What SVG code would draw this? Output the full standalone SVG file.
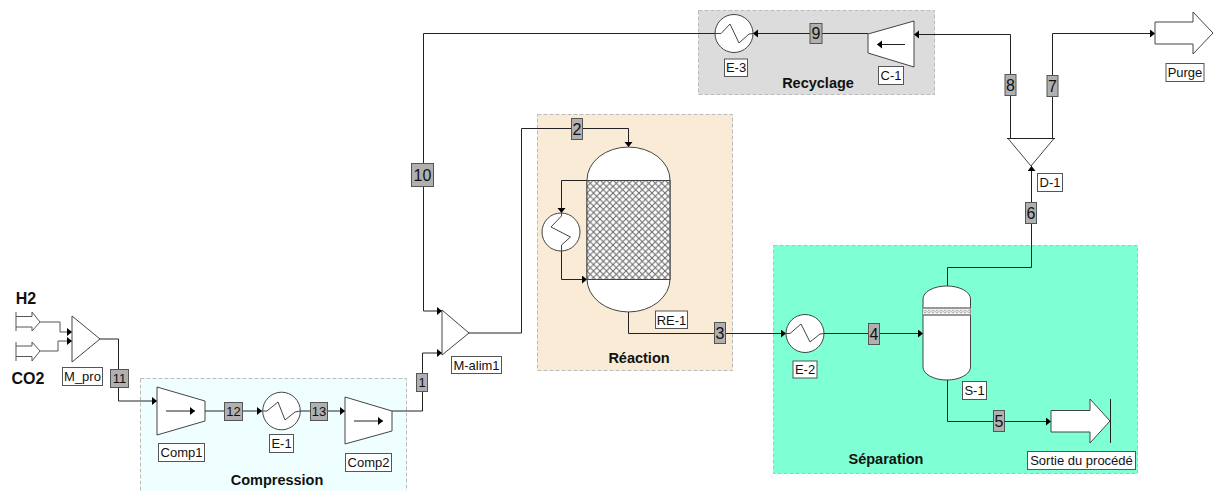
<svg xmlns="http://www.w3.org/2000/svg" width="1215" height="491" viewBox="0 0 1215 491">
<style>
text{font-family:"Liberation Sans",Arial,sans-serif;fill:#111}
.t{font-size:14.500px;font-weight:bold;text-anchor:middle}
.big{font-size:16px;font-weight:bold;text-anchor:middle}
.l{font-size:13px;text-anchor:middle}
.lb{fill:#fff;stroke:#555;stroke-width:1}
.sb{fill:#b0b0b0;stroke:#555;stroke-width:1}
.s{font-size:13px;text-anchor:middle}
.m{font-size:16px;text-anchor:middle}
.e{fill:#fff;stroke:#444;stroke-width:1}
.z{fill:none;stroke:#444;stroke-width:1}
.c{fill:none;stroke:#222;stroke-width:1}
.g{fill:none;stroke:#555;stroke-width:1}
.area{stroke:#bbb;stroke-width:1;stroke-dasharray:4 2}
</style>
<defs>
<marker id="ah" markerUnits="userSpaceOnUse" markerWidth="6" markerHeight="10" refX="5" refY="4" orient="auto"><path d="M0 0L5 4L0 8Z" fill="#000"/></marker>
<pattern id="hatch" width="6.500" height="6.500" x="587" y="180" patternUnits="userSpaceOnUse"><rect width="6.500" height="6.500" fill="#fff"/><path d="M0 0L6.500 6.500M6.500 0L0 6.500" stroke="#666" stroke-width="1"/></pattern>
<pattern id="dots" width="4" height="7" x="923" y="308" patternUnits="userSpaceOnUse"><rect width="4" height="7" fill="#f4f4f4"/><circle cx="2" cy="3.500" r="1.300" fill="none" stroke="#888" stroke-width=".6"/></pattern>
</defs>

<g id="areas">
<rect class="area" x="140.500" y="378.500" width="266" height="120" fill="#efffff"/>
<rect class="area" x="537.500" y="114.500" width="195" height="256" fill="#faebd7"/>
<rect class="area" x="698.500" y="10.500" width="236" height="84" fill="#dcdcdc"/>
<rect class="area" x="773.500" y="245.500" width="364" height="228" fill="#7fffd4"/>
<text class="t" x="277" y="485">Compression</text>
<text class="t" x="639" y="363">Réaction</text>
<text class="t" x="818" y="88">Recyclage</text>
<text class="t" x="886" y="464">Séparation</text>
<text class="big" x="26" y="304">H2</text>
<text class="big" x="28" y="384">CO2</text>
</g>

<g id="connectors">
<path class="g" d="M40 322H60V332H72" marker-end="url(#ah)"/>
<path class="g" d="M40 351H58V341H72" marker-end="url(#ah)"/>
<path class="c" d="M100 339H118.500V401H157" marker-end="url(#ah)"/>
<path class="c" d="M205 411H262" marker-end="url(#ah)"/>
<path class="c" d="M300 411H345" marker-end="url(#ah)"/>
<path class="c" d="M392 411H422.500V353H442" marker-end="url(#ah)"/>
<path class="c" d="M469 333H521.500V128.500H628.500V147" marker-end="url(#ah)"/>
<path class="c" d="M587 180.500H561.500V213" marker-end="url(#ah)"/>
<path class="c" d="M561.500 251V279.500H587" marker-end="url(#ah)"/>
<path class="c" d="M628.500 312V333.500H786" marker-end="url(#ah)"/>
<path class="c" d="M824 333.500H923" marker-end="url(#ah)"/>
<path class="c" d="M947.500 286V267.500H1031.500V166" marker-end="url(#ah)"/>
<path class="c" d="M947.500 380V421.500H1051" marker-end="url(#ah)"/>
<path class="c" d="M1052.500 138V33.500H1155" marker-end="url(#ah)"/>
<path class="c" d="M1010.500 138V34.500H914" marker-end="url(#ah)"/>
<path class="c" d="M868 33.500H753" marker-end="url(#ah)"/>
<path class="c" d="M715 33.500H423.500V311H442" marker-end="url(#ah)"/>
</g>

<g id="stream-labels">
<rect class="sb" x="110.500" y="369.500" width="18" height="18"/><text class="s" x="119.500" y="383">11</text>
<rect class="sb" x="224.500" y="402.500" width="18" height="18"/><text class="s" x="233.500" y="416">12</text>
<rect class="sb" x="310.500" y="402.500" width="17" height="18"/><text class="s" x="319" y="416">13</text>
<rect class="sb" x="416.500" y="373.500" width="11" height="18"/><text class="s" x="422" y="387">1</text>
<rect class="sb" x="411.500" y="163.500" width="22" height="23"/><text class="m" x="422.500" y="181">10</text>
<rect class="sb" x="571.500" y="118.500" width="11" height="21"/><text class="m" x="577" y="135">2</text>
<rect class="sb" x="714.500" y="322.500" width="11" height="21"/><text class="m" x="720" y="339">3</text>
<rect class="sb" x="868.500" y="323.500" width="11" height="21"/><text class="m" x="874" y="340">4</text>
<rect class="sb" x="993.500" y="410.500" width="11" height="21"/><text class="m" x="999" y="427">5</text>
<rect class="sb" x="1025.500" y="202.500" width="11" height="21"/><text class="m" x="1031" y="219">6</text>
<rect class="sb" x="1047" y="75.500" width="11" height="21"/><text class="m" x="1052.500" y="92">7</text>
<rect class="sb" x="1005" y="74.500" width="11" height="21"/><text class="m" x="1010.500" y="91">8</text>
<rect class="sb" x="810" y="23.500" width="12" height="20"/><text class="m" x="816" y="39">9</text>
</g>

<g id="H2"><path class="g" d="M16 312V331M16 316.500H32V312L40 322L32 331V327H16"/></g>
<g id="CO2"><path class="g" d="M16 342V361M16 346H32V342L40 351L32 361V356.500H16"/></g>
<g id="M_pro"><path class="e" d="M72 316L100 339L72 362Z"/><rect class="lb" x="62.500" y="367.500" width="40" height="18"/><text class="l" x="82.500" y="381">M_pro</text></g>

<g id="Comp1"><path class="e" d="M157 387L205 401V421L157 435Z"/><path class="c" d="M166 411H195" marker-end="url(#ah)"/><rect class="lb" x="158.500" y="443.500" width="46" height="18"/><text class="l" x="181.500" y="457">Comp1</text></g>
<g id="E-1"><circle class="e" cx="281.500" cy="411" r="18.800"/><path class="z" d="M263 411H267L278 402L285 420L295 412L300 411"/><rect class="lb" x="269.500" y="434.500" width="24" height="18"/><text class="l" x="281.500" y="448">E-1</text></g>
<g id="Comp2"><path class="e" d="M345 397L392 411V431L345 444Z"/><path class="c" d="M354 421H383" marker-end="url(#ah)"/><rect class="lb" x="345.500" y="453.500" width="46" height="18"/><text class="l" x="368.500" y="467">Comp2</text></g>

<g id="M-alim1"><path class="e" d="M442 310L469 333L442 355Z"/><rect class="lb" x="451.500" y="356.500" width="50" height="17"/><text class="l" x="476.500" y="370">M-alim1</text></g>

<g id="RE-1"><path class="e" d="M587 180A41.500 33 0 0 1 670 180V279A41.500 33 0 0 1 587 279Z"/><rect x="587" y="180.500" width="83" height="99" fill="url(#hatch)" stroke="#444"/><rect class="lb" x="655.500" y="311" width="32" height="17.500"/><text class="l" x="671.500" y="324.500">RE-1</text></g>
<g id="RE-1-exchanger"><circle class="e" cx="561" cy="232" r="19"/><path class="z" d="M561.500 213V216L551 227L570.500 237L561.500 245V251"/></g>

<g id="E-2"><circle class="e" cx="805" cy="333.500" r="19"/><path class="z" d="M786 333.500H790L801 324L810 342L820 334L824 333.500"/><rect class="lb" x="793" y="361" width="24" height="17"/><text class="l" x="805" y="374">E-2</text></g>
<g id="S-1"><path class="e" d="M923 299A23.750 13 0 0 1 970.500 299V367A23.750 13 0 0 1 923 367Z"/><rect x="923" y="308" width="47.500" height="7" fill="url(#dots)" stroke="none"/><path d="M923 308H970.500M923 315H970.500" stroke="#777" stroke-width="1.500" fill="none"/><rect class="lb" x="962.500" y="381.500" width="24" height="18"/><text class="l" x="974.500" y="395">S-1</text></g>
<g id="Sortie"><path class="e" d="M1051 410.500H1090V399L1110 421L1090 443V432H1051Z"/><path class="c" d="M1110.500 399V443"/><rect class="lb" x="1027.500" y="451.500" width="108" height="18"/><text class="l" x="1081.500" y="465">Sortie du procédé</text></g>

<g id="D-1"><path class="e" d="M1008 138.500H1054L1031 166Z"/><path class="c" d="M1007 138.500H1055"/><rect class="lb" x="1037.500" y="173.500" width="25" height="18"/><text class="l" x="1050" y="187">D-1</text></g>
<g id="Purge"><path class="e" d="M1155 22H1193V12L1213 33L1193 54V44H1155Z"/><rect class="lb" x="1166" y="63.500" width="38" height="18"/><text class="l" x="1185" y="77">Purge</text></g>
<g id="C-1"><path class="e" d="M868 34L914 21V67L868 53Z"/><path class="c" d="M905 44.500H877" marker-end="url(#ah)"/><rect class="lb" x="878.500" y="66.500" width="25" height="18"/><text class="l" x="891" y="80">C-1</text></g>
<g id="E-3"><circle class="e" cx="734" cy="33.500" r="19"/><path class="z" d="M715 33.500H721L730 24L739 43L749 34L753 33.500"/><rect class="lb" x="724.500" y="59" width="23" height="17.500"/><text class="l" x="736" y="72">E-3</text></g>
</svg>
